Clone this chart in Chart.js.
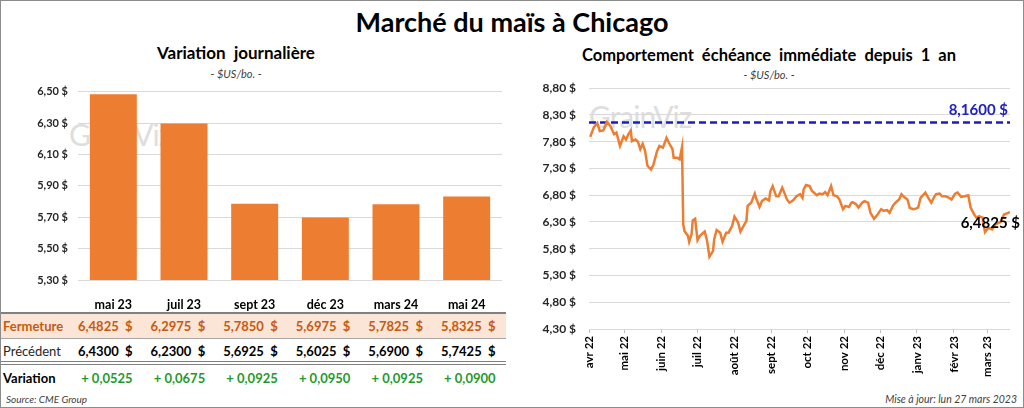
<!DOCTYPE html>
<html lang="fr">
<head>
<meta charset="utf-8">
<title>Marché du maïs à Chicago</title>
<script src="https://cdn.jsdelivr.net/npm/chart.js@4.4.1/dist/chart.umd.min.js"></script>
<style>
  html, body { margin: 0; padding: 0; background: #fff; }
  body { font-family: 'Lato', 'Noto Sans', sans-serif; color: #000; }
  #cadre { position: relative; width: 1024px; height: 408px; box-sizing: border-box; border: 1px solid #8c8c8c; overflow: hidden; }
  .abs { position: absolute; white-space: nowrap; }
  .titre { font-weight: bold; font-size: 27px; left: 0; width: 1022px; text-align: center; top: 4px; }
  .sous { font-weight: bold; font-size: 17px; text-align: center; }
  .unite { font-style: italic; font-size: 11px; color: #404040; text-align: center; }
  .filigrane { font-size: 30px; color: #dedede; letter-spacing: -1px; }
  .ligne { position: absolute; left: 0; width: 505px; }
  .rang { position: absolute; left: 0; width: 505px; display: flex; align-items: center; font-size: 13px; }
  .rang span { display: inline-block; box-sizing: border-box; }
  .rang .lib { width: 64px; padding-left: 2px; }
  .rang .val { width: 72.6px; text-align: right; padding-right: 5px; font-weight: bold; }
  .note { font-style: italic; font-size: 10px; color: #404040; }
</style>
</head>
<body>
<div id="cadre">
  <div class="abs titre">Marché du maïs à Chicago</div>

  <!-- panneau gauche -->
  <div class="abs sous" style="left:85px; width:300px; top:41px;">Variation&nbsp; journalière</div>
  <div class="abs unite" style="left:185px; width:100px; top:66px;">- $US/bo. -</div>
  <div class="abs filigrane" style="left:68px; top:115px;">GrainViz</div>
  <canvas id="barres" class="abs" width="510" height="237" style="left:0; top:74px;"></canvas>

  <div class="ligne" style="top:311px; border-top:2px solid #808080;"></div>
  <div class="ligne" style="top:313px; height:24px; background:#fbe5d6;"></div>
  <div class="ligne" style="top:337px; border-top:1px solid #a6a6a6;"></div>
  <div class="ligne" style="top:360px; height:2px; border-top:1px solid #808080; border-bottom:1px solid #808080;"></div>
  <div id="rangFermeture" class="rang" style="top:313px; height:24px; color:#c55a11;"></div>
  <div id="rangPrecedent" class="rang" style="top:338px; height:24px;"></div>
  <div id="rangVariation" class="rang" style="top:365px; height:24px;"></div>
  <div class="abs note" style="left:5px; top:392px;">Source: CME Group</div>

  <!-- panneau droit -->
  <div class="abs sous" style="left:568px; width:400px; top:44px; font-size:16.5px;">Comportement&nbsp; échéance&nbsp; immédiate&nbsp; depuis&nbsp; 1&nbsp; an</div>
  <div class="abs unite" style="left:718px; width:100px; top:67px;">- $US/bo. -</div>
  <div class="abs filigrane" style="left:588px; top:97px;">GrainViz</div>
  <canvas id="courbe" class="abs" width="512" height="313" style="left:512px; top:67px;"></canvas>
  <div class="abs note" style="right:6px; top:392px; font-size:10.5px;">Mise à jour: lun 27 mars 2023</div>
</div>

<script>
// échéances et prix (bar chart + tableau)
const echeances = ['mai 23', 'juil 23', 'sept 23', 'déc 23', 'mars 24', 'mai 24'];
const fermeture = [6.4825, 6.2975, 5.7850, 5.6975, 5.7825, 5.8325];
const precedent = [6.4300, 6.2300, 5.6925, 5.6025, 5.6900, 5.7425];
const ticksBarres = [5.30, 5.50, 5.70, 5.90, 6.10, 6.30, 6.50];

// échéance immédiate : jours depuis le 1er avril 2022, prix en $US/bo.
const jours = [1, 4, 7, 9, 12, 15, 18, 21, 23, 26, 29, 31, 33, 35, 36, 39, 41, 43, 45, 47,
  49, 52, 54, 57, 59, 62, 65, 67, 70, 71, 74, 76, 78, 79, 80, 83, 84, 86, 87, 89,
  91, 93, 97, 99, 101, 104, 105, 107, 110, 112, 115, 117, 120, 122, 125, 127, 130, 132, 133, 136,
  139, 140, 143, 145, 148, 151, 152, 154, 157, 159, 162, 163, 166, 168, 171, 174, 177, 179, 180, 182,
  185, 187, 191, 193, 196, 198, 200, 203, 205, 208, 210, 213, 215, 218, 220, 221, 224, 226, 229, 231,
  234, 236, 239, 242, 245, 247, 250, 252, 255, 257, 260, 262, 264, 267, 269, 272, 274, 276, 278, 282,
  284, 287, 289, 291, 294, 296, 299, 302, 304, 307, 309, 312, 315, 318, 320, 323, 325, 327, 330, 332,
  335, 338, 341, 345, 348, 353];
const prix = [7.89, 8.07, 8.15, 8.00, 8.01, 8.17, 8.09, 7.94, 7.97, 7.72, 7.90, 7.84, 7.94, 8.01, 7.81, 7.84, 7.80, 7.66, 7.76, 7.63,
  7.35, 7.28, 7.37, 7.62, 7.72, 7.69, 7.87, 7.78, 7.66, 7.50, 7.50, 7.47, 7.70, 6.26, 6.13, 6.04, 5.93, 6.07, 6.33, 6.36,
  5.96, 6.04, 6.12, 5.95, 5.65, 5.76, 5.98, 6.15, 6.10, 5.93, 6.10, 6.10, 6.23, 6.40, 6.29, 6.12, 6.24, 6.32, 6.60, 6.66,
  6.83, 6.75, 6.58, 6.69, 6.74, 6.70, 6.87, 6.97, 6.78, 6.78, 6.94, 6.89, 6.72, 6.66, 6.70, 6.78, 6.82, 6.75, 6.91, 6.99,
  6.97, 6.88, 6.80, 6.83, 6.82, 6.86, 6.80, 6.97, 6.80, 6.78, 6.72, 6.54, 6.60, 6.58, 6.66, 6.67, 6.63, 6.57, 6.66, 6.69,
  6.66, 6.47, 6.36, 6.44, 6.54, 6.51, 6.52, 6.47, 6.61, 6.66, 6.72, 6.82, 6.77, 6.72, 6.56, 6.54, 6.55, 6.57, 6.75, 6.85,
  6.77, 6.66, 6.75, 6.82, 6.83, 6.78, 6.78, 6.75, 6.72, 6.83, 6.85, 6.77, 6.78, 6.80, 6.57, 6.44, 6.38, 6.41, 6.38, 6.11,
  6.19, 6.16, 6.26, 6.30, 6.44, 6.4825];
const sommet = 8.16;
const debutsMois = [0, 30, 61, 91, 122, 153, 183, 214, 244, 275, 306, 334];
const moisLabels = ['avr 22', 'mai 22', 'juin 22', 'juil 22', 'août 22', 'sept 22', 'oct 22', 'nov 22', 'déc 22', 'janv 23', 'févr 23', 'mars 23'];
const ticksCourbe = [4.30, 4.80, 5.30, 5.80, 6.30, 6.80, 7.30, 7.80, 8.30, 8.80];

const POLICE = "'Lato', 'Noto Sans', sans-serif";
const ORANGE = '#ed7d31';

function fr(v, d) {
    return v.toFixed(d).replace('.', ',');
}

// tableau sous le graphique à barres
function remplirRang(id, libelle, styleLib, valeurs) {
    const rang = document.getElementById(id);
    let html = '<span class="lib" style="' + styleLib + '">' + libelle + '</span>';
    valeurs.forEach(txt => { html += '<span class="val">' + txt + '</span>'; });
    rang.innerHTML = html;
}
remplirRang('rangFermeture', 'Fermeture', 'font-weight:bold;', fermeture.map(v => fr(v, 4) + '&nbsp; $'));
remplirRang('rangPrecedent', 'Précédent', 'color:#262626;', precedent.map(v => fr(v, 4) + '&nbsp; $'));
remplirRang('rangVariation', 'Variation', 'font-weight:bold;', fermeture.map((v, i) => {
    const d = v - precedent[i];
    return '<span style="color:#1f9a2a">' + (d >= 0 ? '+ ' : '- ') + fr(Math.abs(d), 4) + '</span>';
}));

// graphique à barres : variation journalière
new Chart(document.getElementById('barres'), {
    type: 'bar',
    data: {
        labels: echeances,
        datasets: [{
            data: fermeture,
            backgroundColor: ORANGE,
            categoryPercentage: 1,
            barPercentage: 0.665
        }]
    },
    options: {
        responsive: false,
        animation: false,
        layout: { padding: { top: 5, right: 9, left: 0, bottom: 0 } },
        plugins: { legend: { display: false }, tooltip: { enabled: false } },
        scales: {
            x: {
                grid: { display: false },
                border: { display: false },
                ticks: { color: '#000', padding: 9, font: { family: POLICE, size: 12.5, weight: 'bold' } },
                afterFit: s => { s.height = 32; }
            },
            y: {
                min: 5.3,
                max: 6.5,
                afterBuildTicks: s => { s.ticks = ticksBarres.map(v => ({ value: v })); },
                ticks: {
                    color: '#262626',
                    padding: 10,
                    font: { family: POLICE, size: 11, weight: 'bold' },
                    callback: v => fr(v, 2) + ' $'
                },
                grid: { color: '#d9d9d9', drawTicks: false },
                border: { display: false },
                afterFit: s => { s.width = 77; }
            }
        }
    }
});

// étiquettes du sommet et du dernier prix
const etiquettes = {
    id: 'etiquettes',
    afterDatasetsDraw(chart) {
        const ctx = chart.ctx;
        const x = chart.scales.x, y = chart.scales.y;
        ctx.save();
        ctx.font = 'bold 15px ' + POLICE;
        ctx.textBaseline = 'middle';
        ctx.textAlign = 'right';
        ctx.fillStyle = '#2020c0';
        ctx.fillText(fr(sommet, 4) + ' $', chart.chartArea.right - 2, y.getPixelForValue(sommet) - 12);
        const n = prix.length - 1;
        ctx.fillStyle = '#000';
        ctx.fillText(fr(prix[n], 4) + ' $', x.getPixelForValue(jours[n]) + 10, y.getPixelForValue(prix[n]) + 11);
        ctx.restore();
    }
};

// courbe : échéance immédiate depuis 1 an
new Chart(document.getElementById('courbe'), {
    type: 'line',
    data: {
        datasets: [{
            data: jours.map((j, i) => ({ x: j, y: prix[i] })),
            borderColor: ORANGE,
            borderWidth: 2.5,
            pointRadius: 0,
            tension: 0
        }, {
            data: [{ x: 0, y: sommet }, { x: 353, y: sommet }],
            borderColor: '#1c1cc4',
            borderWidth: 2.5,
            borderDash: [7, 4],
            pointRadius: 0
        }]
    },
    options: {
        responsive: false,
        animation: false,
        layout: { padding: { top: 0, right: 15, left: 0, bottom: 0 } },
        plugins: { legend: { display: false }, tooltip: { enabled: false } },
        scales: {
            x: {
                type: 'linear',
                min: 0,
                max: 353,
                afterBuildTicks: s => { s.ticks = debutsMois.map(v => ({ value: v })); },
                ticks: {
                    color: '#000',
                    padding: 3,
                    minRotation: 90,
                    maxRotation: 90,
                    autoSkip: false,
                    font: { family: POLICE, size: 11.5, weight: 'bold' },
                    callback: (v, i) => moisLabels[i]
                },
                grid: { drawOnChartArea: false, drawTicks: true, tickLength: 4, color: '#bfbfbf' },
                border: { display: false },
                afterFit: s => { s.height = 52; }
            },
            y: {
                min: 4.3,
                max: 8.8,
                afterBuildTicks: s => { s.ticks = ticksCourbe.map(v => ({ value: v })); },
                ticks: {
                    color: '#262626',
                    padding: 13,
                    font: { family: POLICE, size: 12, weight: 'bold' },
                    callback: v => fr(v, 2) + ' $'
                },
                grid: { color: '#d9d9d9', drawTicks: false },
                border: { display: false },
                afterFit: s => { s.width = 76; }
            }
        }
    },
    plugins: [etiquettes]
});
</script>
</body>
</html>
